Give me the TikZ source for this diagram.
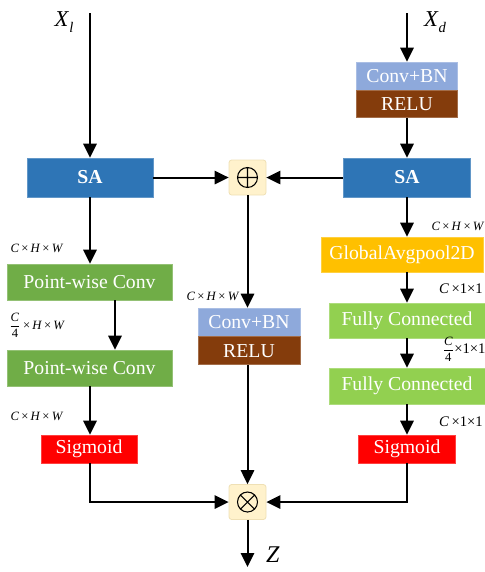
\documentclass[tikz,border=0pt]{standalone}
\usepackage{fontspec}
\setmainfont{Liberation Serif}
\usetikzlibrary{arrows.meta,calc}
\definecolor{sablue}{HTML}{2E75B6}
\definecolor{cbnblue}{HTML}{8EA9DB}
\definecolor{relubrown}{HTML}{843C0C}
\definecolor{pwgreen}{HTML}{70AD47}
\definecolor{gapyellow}{HTML}{FFC000}
\definecolor{fcgreen}{HTML}{92D050}
\definecolor{sigred}{HTML}{FF0000}
\definecolor{opfill}{HTML}{FFF2CC}
\definecolor{opdraw}{HTML}{EFE0B5}
\newcommand{\myfrac}{\ensuremath{\displaystyle\frac{\mbox{\textit{C}}}{\mbox{4}}}}
\tikzset{
  blk/.style={rectangle, inner sep=0pt, text=white, draw=#1!75!white, line width=0.5pt, fill=#1,
    font=\fontsize{14.8}{16}\selectfont},
  opbox/.style={rectangle, rounded corners=2pt, fill=opfill, draw=opdraw, line width=0.6pt,
    minimum width=37*0.75pt, minimum height=35*0.75pt, inner sep=0pt},
  arr/.style={line width=1.5pt, -{Triangle[length=10.5pt,width=10pt]}},
  dimlab/.style={font=\fontsize{9.5}{10}\selectfont, inner sep=0pt},
  dimlabb/.style={font=\fontsize{11}{12}\selectfont, inner sep=0pt},
  biglab/.style={font=\fontsize{17}{18}\selectfont, inner sep=0pt}
}
\begin{document}
\begin{tikzpicture}[x=0.75pt,y=-0.75pt]
\useasboundingbox (0,0) rectangle (485,572);
% main blocks
\node[blk=sablue, minimum width=126*0.75pt, minimum height=39*0.75pt, font=\fontsize{14.8}{16}\selectfont\bfseries] (sal) at (90,177.5) {SA};
\node[blk=sablue, minimum width=127*0.75pt, minimum height=39*0.75pt, font=\fontsize{14.8}{16}\selectfont\bfseries] (sar) at (407,177.5) {SA};
\node[opbox] (plus) at (247.5,177.5) {};
\draw[line width=0.8pt] (plus.center) circle (10) ($(plus.center)+(-10,0)$) -- ($(plus.center)+(10,0)$) ($(plus.center)+(0,-10)$) -- ($(plus.center)+(0,10)$);
\node[opbox] (times) at (247.5,502) {};
\draw[line width=0.8pt] (times.center) circle (10) ($(times.center)+(-7.07,-7.07)$) -- ($(times.center)+(7.07,7.07)$) ($(times.center)+(-7.07,7.07)$) -- ($(times.center)+(7.07,-7.07)$);
% right top conv
\node[blk=cbnblue, minimum width=101*0.75pt, minimum height=28*0.75pt] (rcb) at (407,76) {Conv+BN};
\node[blk=relubrown, minimum width=101*0.75pt, minimum height=27*0.75pt, anchor=north] (rrelu) at (rcb.south) {RELU};
% left column
\node[blk=pwgreen, minimum width=165*0.75pt, minimum height=36*0.75pt] (pw1) at (89.5,282) {Point-wise Conv};
\node[blk=pwgreen, minimum width=165*0.75pt, minimum height=36*0.75pt] (pw2) at (89.5,368) {Point-wise Conv};
\node[blk=sigred, minimum width=96*0.75pt, minimum height=28*0.75pt] (sigl) at (89,449) {Sigmoid};
% middle
\node[blk=cbnblue, minimum width=102*0.75pt, minimum height=28*0.75pt] (mcb) at (249,322) {Conv+BN};
\node[blk=relubrown, minimum width=102*0.75pt, minimum height=28*0.75pt, anchor=north] (mrelu) at (mcb.south) {RELU};
% right column
\node[blk=gapyellow, minimum width=162*0.75pt, minimum height=35*0.75pt] (gap) at (402,254.5) {GlobalAvgpool2D};
\node[blk=fcgreen, minimum width=156*0.75pt, minimum height=35*0.75pt] (fc1) at (407,320.5) {Fully Connected};
\node[blk=fcgreen, minimum width=156*0.75pt, minimum height=36*0.75pt] (fc2) at (407,386) {Fully Connected};
\node[blk=sigred, minimum width=97*0.75pt, minimum height=28*0.75pt] (sigr) at (407,449) {Sigmoid};
% labels
\node[biglab] (xl) at (64,22) {\textit{X}\raisebox{-0.5ex}{\fontsize{11}{12}\selectfont\textit{l}}};
\node[biglab] (xd) at (435,22) {\textit{X}\raisebox{-0.6ex}{\fontsize{11}{12}\selectfont\textit{d}}};
\node[font=\fontsize{18}{19}\selectfont, inner sep=0pt] (z) at (273,555) {\textit{Z}};
\coordinate (inl) at (90,13);
\coordinate (ind) at (407,13);
\coordinate (out) at (247.5,567);
\coordinate (xa) at (115,0);
\node[dimlab] (d1) at (37,248) {\textit{C}\,×\,\textit{H}\,×\,\textit{W}};
\node[dimlab] (d2) at (37,325) {\myfrac\,×\,\textit{H}\,×\,\textit{W}};
\node[dimlab] (d3) at (37,416) {\textit{C}\,×\,\textit{H}\,×\,\textit{W}};
\node[dimlab] (d4) at (213,296) {\textit{C}\,×\,\textit{H}\,×\,\textit{W}};
\node[dimlab] (d5) at (458,226) {\textit{C}\,×\,\textit{H}\,×\,\textit{W}};
\node[dimlabb] (d6) at (461,289) {\textit{C}\,×1×1};
\node[dimlab] (d7) at (464,349) {\myfrac{\fontsize{11}{12}\selectfont×1×1}};
\node[dimlabb] (d8) at (461,422) {\textit{C}\,×1×1};
% connectors
\draw[arr] (inl) -- (sal.north);
\draw[arr] (ind) -- (rcb.north);
\draw[arr] (rrelu.south) -- (sar.north);
\draw[arr] (sal.east) -- (plus.west);
\draw[arr] (sar.west) -- (plus.east);
\draw[arr] (plus.south) -- (mcb.north -| plus.south);
\draw[arr] (mrelu.south -| times.north) -- (times.north);
\draw[arr] (sal.south) -- (pw1.north -| sal.south);
\draw[arr] (pw1.south -| xa) -- (pw2.north -| xa);
\draw[arr] (pw2.south -| sal.south) -- (sigl.north -| sal.south);
\draw[arr] (sigl.south -| sal.south) |- (times.west);
\draw[arr] (sar.south) -- (gap.north -| sar.south);
\draw[arr] (gap.south -| fc1.north) -- (fc1.north);
\draw[arr] (fc1.south) -- (fc2.north);
\draw[arr] (fc2.south) -- (sigr.north);
\draw[arr] (sigr.south) |- (times.east);
\draw[arr] (times.south) -- (out);
\end{tikzpicture}
\end{document}
